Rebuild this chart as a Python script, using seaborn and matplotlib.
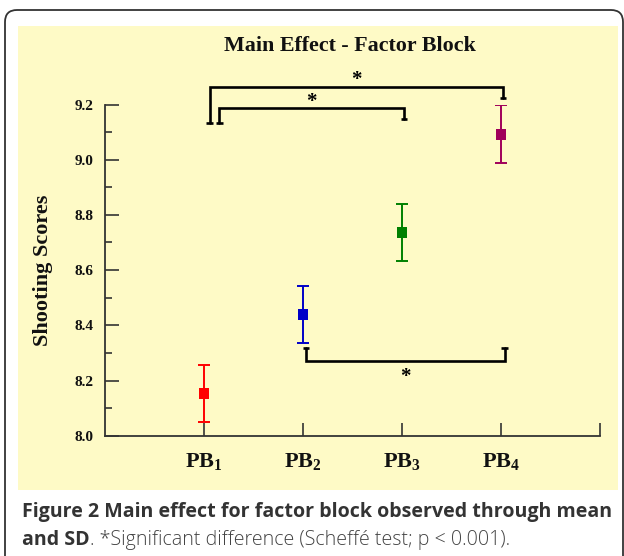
import matplotlib
matplotlib.use("Agg")
import numpy as np
import pandas as pd
import seaborn as sns
import matplotlib.pyplot as plt
from matplotlib.patches import FancyBboxPatch, Rectangle
from matplotlib.ticker import MultipleLocator, FormatStrFormatter

# ---------------- data ----------------
blocks = ["PB1", "PB2", "PB3", "PB4"]
means = [8.152, 8.440, 8.737, 9.093]
sds = [0.103, 0.103, 0.103, 0.104]
tick_labels = [r"$\mathbf{PB_1}$", r"$\mathbf{PB_2}$", r"$\mathbf{PB_3}$", r"$\mathbf{PB_4}$", ""]
colors = ["#FF0000", "#0000C8", "#008000", "#A0005A"]
title = "Main Effect - Factor Block"
ylabel = "Shooting Scores"
caption1 = "Figure 2 Main effect for factor block observed through mean"
caption2a = "and SD"
caption2b = ". *Significant difference (Scheffé test; p < 0.001)."
# significance comparisons (pairs of block indices)
comparisons = [(0, 3), (0, 2), (1, 3)]

df = pd.DataFrame({"block": blocks, "mean": means, "sd": sds})

sns.set_theme(style="ticks")
plt.rcParams.update({
    "font.family": ["Liberation Serif", "DejaVu Serif"],
    "mathtext.fontset": "custom",
    "mathtext.rm": "Liberation Serif",
    "mathtext.bf": "Liberation Serif:bold",
    "mathtext.it": "Liberation Serif:italic",
})

W, H = 624, 556
fig = plt.figure(figsize=(W / 100, H / 100), dpi=100)
fig.patch.set_facecolor("white")

# outer rounded frame (inches)
frame = FancyBboxPatch((5 / 100, -0.3), (623 - 5) / 100, (H - 10) / 100 + 0.3,
                       boxstyle="round,pad=0,rounding_size=0.12",
                       transform=fig.dpi_scale_trans, facecolor="white",
                       edgecolor="#333333", linewidth=1.3, zorder=-3)
fig.patches.append(frame)
panel = Rectangle((18 / 100, (H - 490) / 100), (618 - 18) / 100, (490 - 26) / 100,
                  transform=fig.dpi_scale_trans, facecolor="#FEFAC6",
                  edgecolor="none", zorder=-2)
fig.patches.append(panel)

ax = fig.add_axes([105 / W, (H - 435.7) / H, (600 - 105) / W, (435.7 - 104.5) / H])
ax.set_facecolor("none")
ax.set_zorder(2)

sns.scatterplot(data=df, x="block", y="mean", hue="block", palette=colors,
                marker="s", s=62, linewidth=0, legend=False, ax=ax, zorder=4)
for i, (m, s, c) in enumerate(zip(means, sds, colors)):
    ax.errorbar(i, m, yerr=s, fmt="none", ecolor=c, elinewidth=1.4,
                capsize=4, capthick=1.4, zorder=3)

ax.set_xlim(-1, 4)
ax.set_ylim(8.0, 9.2)
ax.set_xticks(range(5))
ax.set_xticklabels(tick_labels, fontsize=16)
ax.yaxis.set_major_locator(MultipleLocator(0.2))
ax.yaxis.set_minor_locator(MultipleLocator(0.1))
ax.yaxis.set_major_formatter(FormatStrFormatter("%.1f"))
for lab in ax.get_yticklabels():
    lab.set_fontweight("bold")
    lab.set_fontsize(11)
ax.tick_params(axis="y", which="major", direction="in", length=10, width=1.2,
               color="#333333", pad=8, labelcolor="#111111")
ax.tick_params(axis="y", which="minor", direction="in", length=5, width=1.2,
               color="#333333")
ax.tick_params(axis="x", which="major", direction="in", length=9.5, width=1.2,
               color="#333333", pad=11, labelcolor="#111111")
ax.set_xlabel("")
ax.set_ylabel("")
for sp in ["top", "right"]:
    ax.spines[sp].set_visible(False)
for sp in ["left", "bottom"]:
    ax.spines[sp].set_color("#333333")
    ax.spines[sp].set_linewidth(1.3)

# significance brackets (annotation geometry)
geom = {
    (0, 3): dict(x1=0.06, x2=3.02, y=9.264, f1=9.134, f2=9.222, ty=9.29),
    (0, 2): dict(x1=0.155, x2=2.02, y=9.186, f1=9.132, f2=9.146, ty=9.21),
    (1, 3): dict(x1=1.03, x2=3.04, y=8.272, f1=8.317, f2=8.317, ty=8.212),
}
cap = 0.035
for pair in comparisons:
    g = geom[pair]
    ax.plot([g["x1"], g["x1"], g["x2"], g["x2"]], [g["f1"], g["y"], g["y"], g["f2"]],
            color="black", lw=1.9, clip_on=False, zorder=5, solid_joinstyle="miter")
    for xx, ff in ((g["x1"], g["f1"]), (g["x2"], g["f2"])):
        ax.plot([xx - cap, xx + cap], [ff, ff], color="black", lw=1.9,
                clip_on=False, zorder=5, solid_capstyle="butt")
    ax.text((g["x1"] + g["x2"]) / 2, g["ty"], "*", ha="center", va="center",
            fontsize=15, fontweight="bold", color="black", clip_on=False)

fig.text(350 / W, 1 - 46 / H, title, ha="center", va="center", fontsize=15.8,
         fontweight="bold", color="#111111")
fig.text(43 / W, 1 - 270 / H, ylabel, ha="center", va="center", rotation=90,
         fontsize=16, fontweight="bold", color="#111111")

# caption
cap_font = ["Open Sans", "DejaVu Sans"]
t1 = fig.text(22 / W, 1 - 512 / H, caption1, ha="left", va="center", fontsize=12,
              fontweight="bold", family=cap_font, color="#333333")
fig.canvas.draw()
r = fig.canvas.get_renderer()
w = t1.get_window_extent(r).width
fs = 12 * (612 - 22) / w
t1.set_fontsize(fs)
t2 = fig.text(22 / W, 1 - 540 / H, caption2a, ha="left", va="center", fontsize=fs,
              fontweight="bold", family=cap_font, color="#333333")
fig.canvas.draw()
x_end = t2.get_window_extent(r).x1
fig.text(x_end / W, 1 - 540 / H, caption2b, ha="left", va="center", fontsize=fs,
         fontweight="light", family=cap_font, color="#444444")

fig.savefig("out.png", dpi=100)
